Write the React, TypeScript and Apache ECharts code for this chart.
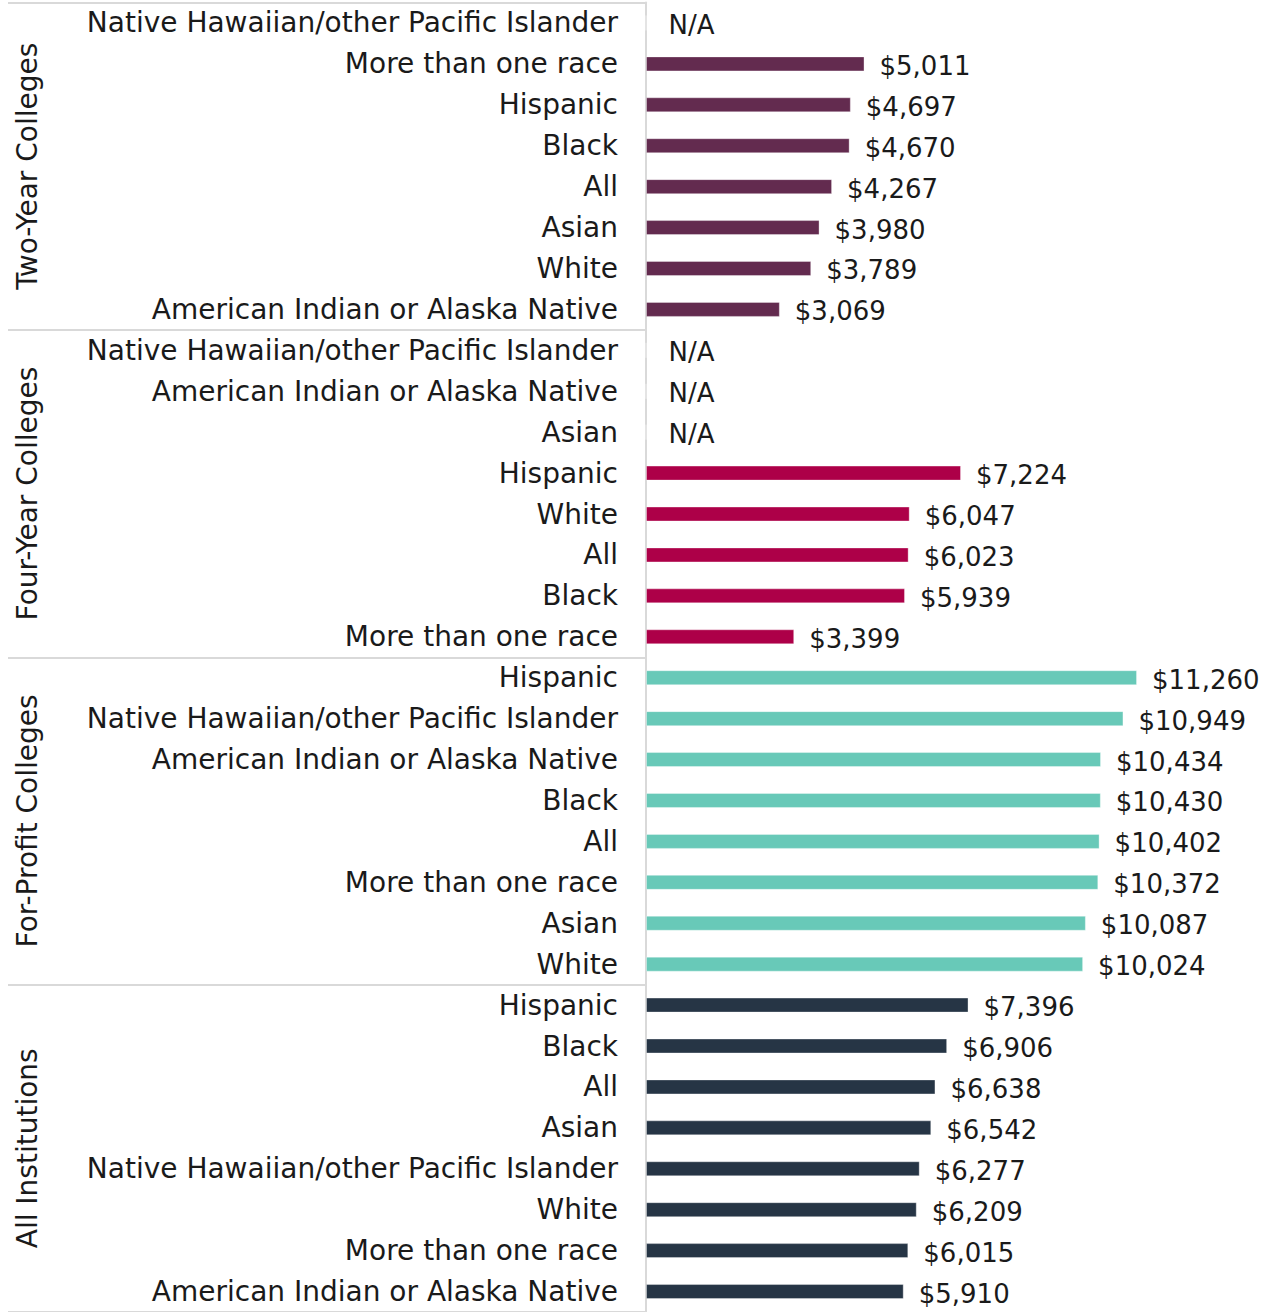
import React, { useEffect, useRef } from "react";
import * as echarts from "echarts";

const groups = ["Two-Year Colleges", "Four-Year Colleges", "For-Profit Colleges", "All Institutions"];

const twoYearRaces = ["Native Hawaiian/other Pacific Islander", "More than one race", "Hispanic", "Black", "All", "Asian", "White", "American Indian or Alaska Native"];
const twoYearValues: (number | null)[] = [null, 5011, 4697, 4670, 4267, 3980, 3789, 3069];

const fourYearRaces = ["Native Hawaiian/other Pacific Islander", "American Indian or Alaska Native", "Asian", "Hispanic", "White", "All", "Black", "More than one race"];
const fourYearValues: (number | null)[] = [null, null, null, 7224, 6047, 6023, 5939, 3399];

const forProfitRaces = ["Hispanic", "Native Hawaiian/other Pacific Islander", "American Indian or Alaska Native", "Black", "All", "More than one race", "Asian", "White"];
const forProfitValues: (number | null)[] = [11260, 10949, 10434, 10430, 10402, 10372, 10087, 10024];

const allRaces = ["Hispanic", "Black", "All", "Asian", "Native Hawaiian/other Pacific Islander", "White", "More than one race", "American Indian or Alaska Native"];
const allValues: (number | null)[] = [7396, 6906, 6638, 6542, 6277, 6209, 6015, 5910];

const groupColors = ["#632b4f", "#ad0048", "#68c9b8", "#263545"];

const FONT = "DejaVu Sans";

export default function App() {
  const ref = useRef<HTMLDivElement>(null);
  useEffect(() => {
    document.body.style.margin = "0";
    const chart = echarts.init(ref.current!, null, { renderer: "svg" });
    const raceLists = [twoYearRaces, fourYearRaces, forProfitRaces, allRaces];
    const valueLists = [twoYearValues, fourYearValues, forProfitValues, allValues];
    const categories: string[] = [];
    const data: any[] = [];
    raceLists.forEach((races, g) => {
      races.forEach((r, i) => {
        categories.push(g + "|" + r);
        const v = valueLists[g][i];
        if (v == null) {
          data.push({
            value: 0,
            itemStyle: { color: groupColors[g] },
            label: { formatter: "N/A", distance: 22, offset: [0, 2] },
          });
        } else {
          data.push({ value: v, itemStyle: { color: groupColors[g] } });
        }
      });
    });
    const rowH = 41;
    const top = 2.5;
    const height = rowH * categories.length;
    chart.setOption({
      animation: false,
      grid: [
        { left: 646, right: 11.5, top, height },
        { left: 8, width: 637, top, height },
      ],
      xAxis: [
        { type: "value", min: 0, max: 14000, show: false, gridIndex: 0 },
        { type: "value", min: 0, max: 1, show: false, gridIndex: 1 },
      ],
      yAxis: [
        {
          type: "category",
          gridIndex: 0,
          data: categories,
          inverse: true,
          axisLine: { show: true, lineStyle: { color: "#d9d9d9", width: 2 } },
          axisTick: { show: false },
          axisLabel: {
            interval: 0,
            margin: 28,
            fontFamily: FONT,
            fontSize: 28,
            color: "#1a1a1a",
            formatter: (s: string) => s.split("|")[1],
          },
        },
        {
          type: "category",
          gridIndex: 1,
          data: groups,
          inverse: true,
          axisLine: { show: false },
          axisTick: { show: false },
          splitLine: { show: true, interval: 0, lineStyle: { color: "#d9d9d9", width: 2 } },
          axisLabel: {
            interval: 0,
            hideOverlap: false,
            inside: true,
            rotate: 90,
            margin: 5,
            fontFamily: FONT,
            fontSize: 28,
            color: "#1a1a1a",
          },
        },
      ],
      series: [
        {
          type: "bar",
          xAxisIndex: 0,
          yAxisIndex: 0,
          data,
          barWidth: 15,
          itemStyle: { borderColor: "rgba(255,255,255,0.35)", borderWidth: 1 },
          label: {
            show: true,
            position: "right",
            distance: 15,
            offset: [0, 2],
            fontFamily: FONT,
            fontSize: 26,
            color: "#1a1a1a",
            formatter: (p: any) => "$" + Number(p.value).toLocaleString("en-US"),
          },
        },
      ],
    });
    return () => chart.dispose();
  }, []);
  return <div ref={ref} style={{ width: 1268, height: 1312 }} />;
}
